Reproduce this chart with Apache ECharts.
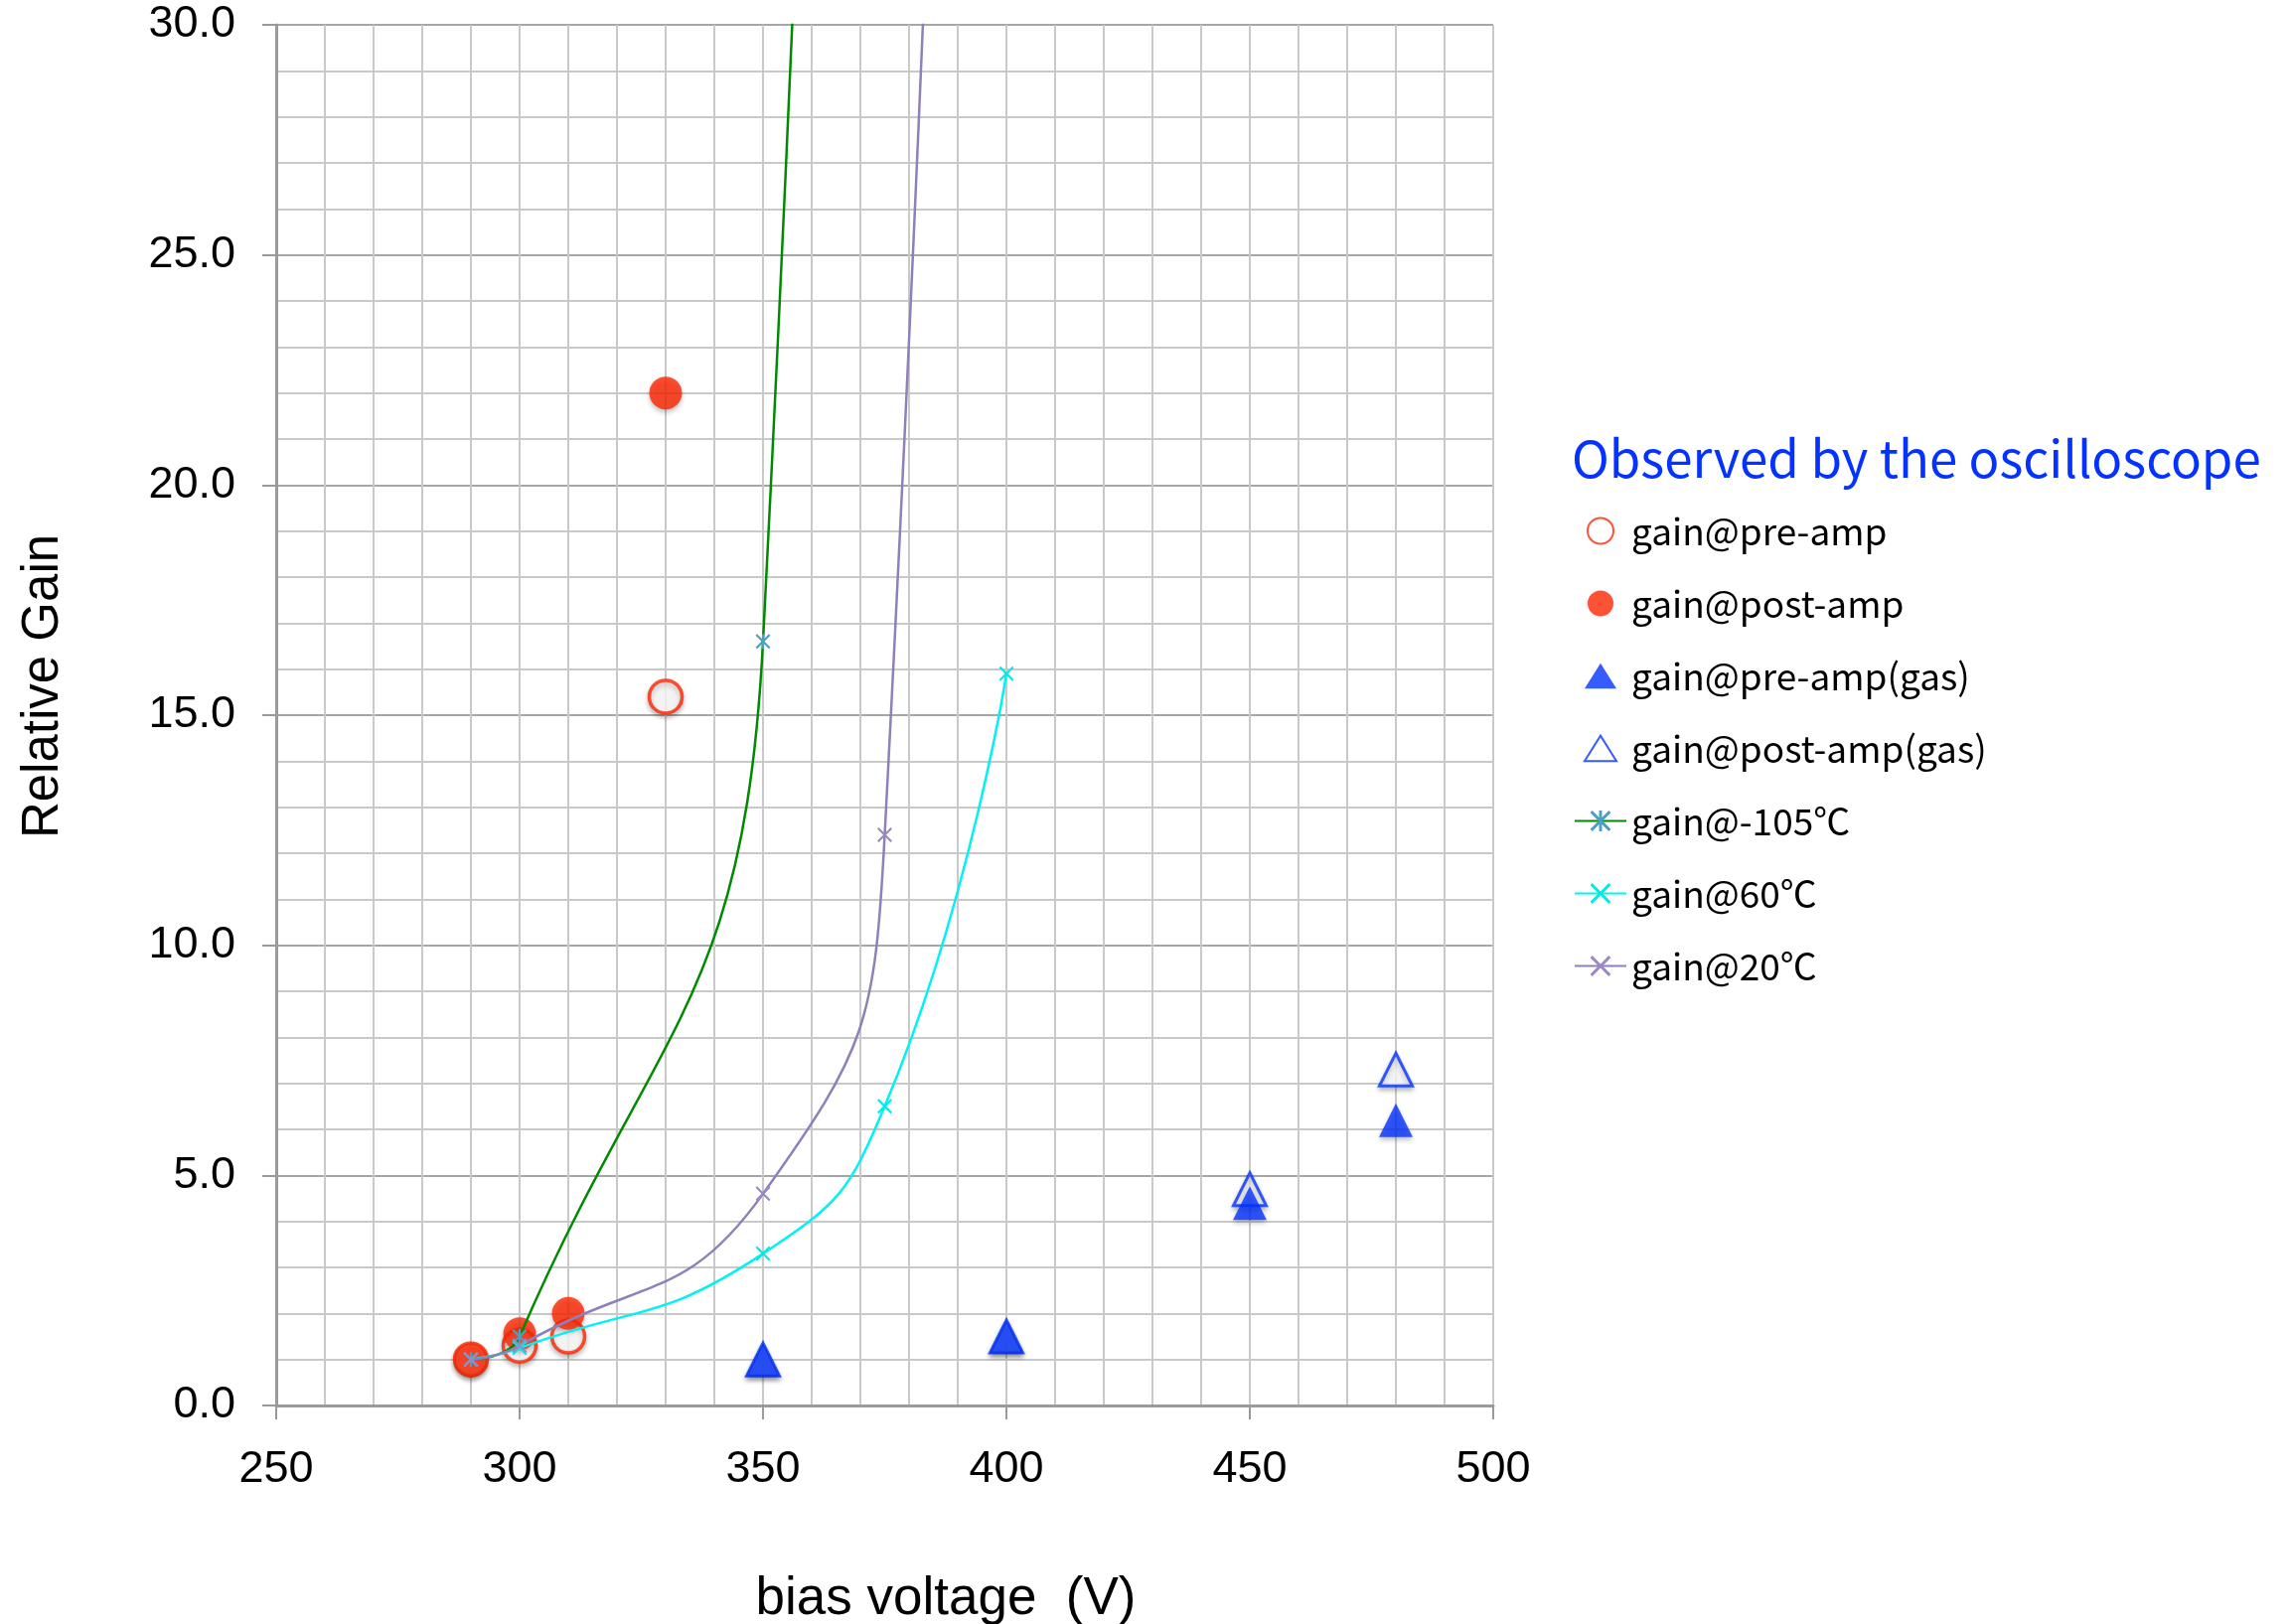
<!DOCTYPE html>
<html>
<head>
<meta charset="utf-8">
<script src="https://cdn.jsdelivr.net/npm/echarts@6/dist/echarts.min.js"></script>
<style>
  html, body { margin: 0; padding: 0; background: #ffffff; }
  #chart { width: 2307px; height: 1635px; }
</style>
</head>
<body>
<div id="chart"></div>
<script>
// Relative gain vs. bias voltage — [bias voltage (V), relative gain]
const gainPreAmp      = [[290, 1.0], [300, 1.3], [310, 1.5], [330, 15.4]];
const gainPostAmp     = [[290, 1.0], [300, 1.56], [310, 2.0], [330, 22.0]];
const gainPreAmpGas   = [[350, 1.0], [400, 1.5], [450, 4.4], [480, 6.2]];
const gainPostAmpGas  = [[350, 1.0], [400, 1.5], [450, 4.7], [480, 7.3]];
// temperature curves; the last point of -105 and 20 lies above the plotted range
const gainMinus105C   = [[290, 1.0], [300, 1.5], [350, 16.6], [375, 120]];
const gain60C         = [[290, 1.0], [300, 1.25], [350, 3.3], [375, 6.5], [400, 15.9]];
const gain20C         = [[290, 1.0], [300, 1.3], [350, 4.6], [375, 12.4], [400, 105]];

const seriesNames = ['gain@pre-amp', 'gain@post-amp', 'gain@pre-amp(gas)', 'gain@post-amp(gas)',
                     'gain@-105℃', 'gain@60℃', 'gain@20℃'];
const xTicks = { min: 250, max: 500, step: 50 };
const yTicks = { min: 0, max: 30, step: 5 };

const RED = '#ff2600';
const BLUE = '#0433ff';
const markerShadow = { shadowColor: 'rgba(0,0,0,0.3)', shadowBlur: 5, shadowOffsetY: 3 };

// thin "x" and asterisk marker outlines
const crossPath = 'path://M0,1L1,0L5,4L9,0L10,1L6,5L10,9L9,10L5,6L1,10L0,9L4,5Z';
const starPath = crossPath + 'M4.3,0L5.7,0L5.7,10L4.3,10Z';
// legend triangle padded with empty moves so it keeps its shape inside the wide icon box
const legendTriangle = 'path://M-7,18L-7,18M0,18L11.25,0L22.5,18ZM29.5,18L29.5,18';

const axisGrey = '#9a9a9a';
const minorGrey = '#c9c9c9';
const majorGrey = '#a6a6a6';
const sansFont = 'Liberation Sans, Arial, sans-serif';
const legendFont = 'Noto Sans CJK JP, Noto Sans, sans-serif';
const tickFont = { fontSize: 45, fontFamily: sansFont, color: '#000' };

const chart = echarts.init(document.getElementById('chart'), null, { renderer: 'canvas' });

chart.setOption({
  backgroundColor: '#ffffff',
  animation: false,
  title: {
    text: 'Observed by the oscilloscope',
    left: 1577,
    top: 431,
    textStyle: { color: BLUE, fontSize: 51, fontWeight: 'normal', fontFamily: legendFont }
  },
  legend: {
    data: seriesNames.map((name, i) => (i === 2 || i === 3) ? { name: name, icon: legendTriangle } : name),
    orient: 'vertical',
    left: 1579,
    top: 511,
    itemWidth: 52,
    itemHeight: 26,
    itemGap: 36,
    textStyle: { fontSize: 37, color: '#000', fontFamily: legendFont },
    itemStyle: { shadowBlur: 0, shadowOffsetY: 0, shadowColor: 'transparent' }
  },
  grid: { left: 278, top: 25, width: 1225, height: 1390, containLabel: false },
  xAxis: {
    type: 'value',
    min: xTicks.min, max: xTicks.max, interval: xTicks.step,
    axisLine: { show: true, onZero: false, lineStyle: { color: axisGrey, width: 3 } },
    axisTick: { show: true, length: 14, lineStyle: { color: axisGrey, width: 2 } },
    axisLabel: Object.assign({ margin: 42 }, tickFont),
    splitLine: { show: true, lineStyle: { color: minorGrey, width: 2 } },
    minorTick: { show: false, splitNumber: 5 },
    minorSplitLine: { show: true, lineStyle: { color: minorGrey, width: 2 } }
  },
  yAxis: {
    type: 'value',
    min: yTicks.min, max: yTicks.max, interval: yTicks.step,
    axisLine: { show: true, onZero: false, lineStyle: { color: axisGrey, width: 3 } },
    axisTick: { show: true, length: 14, lineStyle: { color: axisGrey, width: 2 } },
    axisLabel: Object.assign({ margin: 41, formatter: v => v.toFixed(1) }, tickFont),
    splitLine: { show: true, lineStyle: { color: majorGrey, width: 2 } },
    minorTick: { show: false, splitNumber: 5 },
    minorSplitLine: { show: true, lineStyle: { color: minorGrey, width: 2 } }
  },
  graphic: [
    {
      type: 'text', x: 44, y: 691, rotation: Math.PI / 2,
      style: { text: 'Relative Gain', fontSize: 51, fontFamily: sansFont,
               fill: '#000', align: 'center', verticalAlign: 'middle' }
    },
    {
      type: 'text', x: 952, y: 1610,
      style: { text: 'bias voltage  (V)', fontSize: 53, fontFamily: sansFont,
               fill: '#000', align: 'center', verticalAlign: 'middle' }
    }
  ],
  series: [
    {
      name: seriesNames[0], type: 'scatter', data: gainPreAmp,
      symbol: 'circle', symbolSize: 33,
      itemStyle: Object.assign({ color: '#ffffff', borderColor: RED, borderWidth: 3.5 }, markerShadow)
    },
    {
      name: seriesNames[1], type: 'scatter', data: gainPostAmp,
      symbol: 'circle', symbolSize: 33,
      itemStyle: Object.assign({ color: RED }, markerShadow)
    },
    {
      name: seriesNames[3], type: 'scatter', data: gainPostAmpGas,
      symbol: 'triangle', symbolSize: 33,
      itemStyle: Object.assign({ color: '#ffffff', borderColor: BLUE, borderWidth: 3 }, markerShadow)
    },
    {
      name: seriesNames[2], type: 'scatter', data: gainPreAmpGas,
      symbol: 'triangle', symbolSize: 34,
      itemStyle: Object.assign({ color: BLUE }, markerShadow)
    },
    {
      name: seriesNames[4], type: 'line', data: gainMinus105C, smooth: 0.5,
      symbol: starPath, symbolSize: 15, showSymbol: true, clip: true,
      lineStyle: { color: '#008a00', width: 2.5 },
      itemStyle: { color: '#4aa0c0' }
    },
    {
      name: seriesNames[5], type: 'line', data: gain60C, smooth: 0.5,
      symbol: crossPath, symbolSize: 15, showSymbol: true, clip: true,
      lineStyle: { color: '#00f2f2', width: 2.5 },
      itemStyle: { color: '#00eaea' }
    },
    {
      name: seriesNames[6], type: 'line', data: gain20C, smooth: 0.5,
      symbol: crossPath, symbolSize: 15, showSymbol: true, clip: true,
      lineStyle: { color: '#8f7fba', width: 2.5 },
      itemStyle: { color: '#9a88c2' }
    }
  ]
});
</script>
</body>
</html>
